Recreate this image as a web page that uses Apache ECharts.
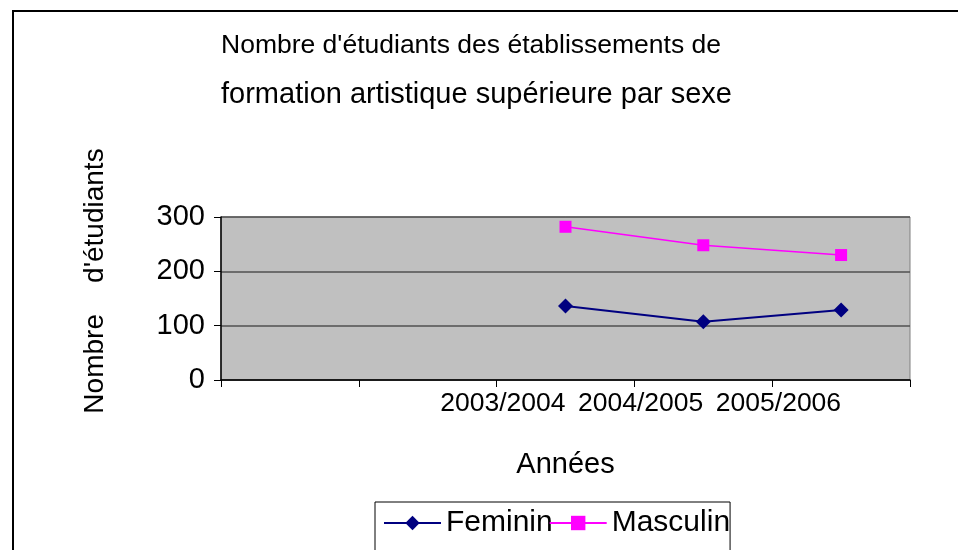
<!DOCTYPE html>
<html>
<head>
<meta charset="utf-8">
<script src="https://cdn.jsdelivr.net/npm/echarts@6/dist/echarts.min.js"></script>
<style>
  html, body { margin: 0; padding: 0; background: #fff; }
  #chart { width: 958px; height: 550px; }
</style>
</head>
<body>
<div id="chart"></div>
<script>
// School years on the category axis (the first two slots are empty)
const categories = ['', '', '2003/2004', '2004/2005', '2005/2006'];
// Number of students per year
const feminin = [null, null, 136, 107, 129];
const masculin = [null, null, 282, 248, 230];
// Value axis ticks
const yTicks = [0, 100, 200, 300];

const FONT = '"Liberation Sans", Arial, sans-serif';

const chart = echarts.init(document.getElementById('chart'), null, { renderer: 'canvas' });

chart.setOption({
  backgroundColor: '#ffffff',
  animation: false,
  title: {
    text: "{a|Nombre d'étudiants des établissements de}\n{b|formation artistique supérieure par sexe}",
    left: 221,
    top: 21,
    padding: 0,
    textStyle: {
      fontWeight: 'normal',
      rich: {
        a: { fontFamily: FONT, fontSize: 26.5, fontWeight: 'normal', color: '#000', lineHeight: 49 },
        b: { fontFamily: FONT, fontSize: 29, fontWeight: 'normal', color: '#000', lineHeight: 49 }
      }
    }
  },
  legend: {
    left: 375,
    top: 502,
    padding: [6, 0, 20, 8],
    borderColor: '#000',
    borderWidth: 1,
    itemWidth: 57,
    itemHeight: 18,
    itemGap: -4,
    textStyle: { fontFamily: FONT, fontSize: 30, color: '#000' },
    data: ['Feminin', 'Masculin']
  },
  grid: {
    left: 221,
    right: 48,
    top: 217,
    bottom: 170,
    show: true,
    backgroundColor: '#c0c0c0',
    borderColor: '#808080',
    borderWidth: 1
  },
  xAxis: {
    type: 'category',
    data: categories,
    boundaryGap: true,
    name: 'Années',
    nameLocation: 'middle',
    nameGap: 70,
    nameTextStyle: { fontFamily: FONT, fontSize: 29, color: '#000' },
    axisLine: { lineStyle: { color: '#000', width: 1.5 } },
    axisTick: { show: true, interval: 0, length: 7, lineStyle: { color: '#000' } },
    axisLabel: {
      interval: 0,
      align: 'right',
      margin: 10,
      fontFamily: FONT,
      fontSize: 26.5,
      color: '#000'
    }
  },
  yAxis: {
    type: 'value',
    min: yTicks[0],
    max: yTicks[yTicks.length - 1],
    interval: 100,
    axisLine: { show: true, lineStyle: { color: '#000', width: 1.5 } },
    axisTick: { show: true, length: 7, lineStyle: { color: '#000' } },
    axisLabel: { fontFamily: FONT, fontSize: 29, color: '#000', margin: 16 },
    splitLine: { show: true, lineStyle: { color: '#505050', width: 1.5 } }
  },
  graphic: [
    {
      type: 'rect',
      shape: { x: 13, y: 11, width: 1000, height: 600 },
      style: { fill: 'none', stroke: '#000', lineWidth: 2 },
      silent: true
    },
    {
      type: 'text',
      x: 95,
      y: 281,
      rotation: Math.PI / 2,
      style: {
        text: "Nombre    d'étudiants",
        font: '28px ' + FONT,
        fill: '#000',
        align: 'center',
        verticalAlign: 'middle'
      },
      silent: true
    }
  ],
  series: [
    {
      name: 'Feminin',
      type: 'line',
      data: feminin,
      symbol: 'diamond',
      symbolSize: 15,
      color: '#000080',
      lineStyle: { color: '#000080', width: 2 },
      itemStyle: { color: '#000080' }
    },
    {
      name: 'Masculin',
      type: 'line',
      data: masculin,
      symbol: 'rect',
      symbolSize: 12,
      color: '#ff00ff',
      lineStyle: { color: '#ff00ff', width: 1.5 },
      itemStyle: { color: '#ff00ff' }
    }
  ]
});
</script>
</body>
</html>
